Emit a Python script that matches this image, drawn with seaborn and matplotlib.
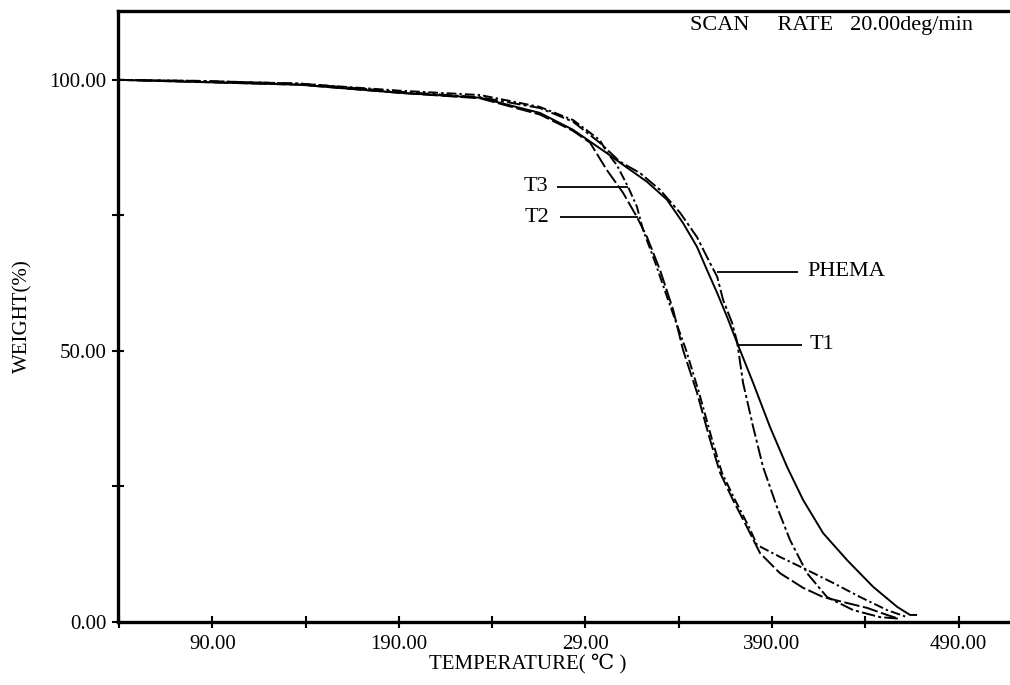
import numpy as np
import pandas as pd
import matplotlib
matplotlib.use("Agg")
import matplotlib.pyplot as plt
import seaborn as sns

# ---------------- data ----------------
t1_temp = [39.4, 83.3, 137.0, 190.6, 233.5, 265.6, 283.3, 301.4, 312.3, 323.0, 333.7, 342.3,
           349.8, 355.2, 360.6, 365.9, 371.3, 379.9, 388.9, 398.1, 406.7, 417.4, 430.3,
           444.2, 457.1, 464.0, 467.8]
t1_weight = [100, 99.6, 99.1, 97.6, 96.7, 93.9, 90.8, 86.5, 83.8, 81.2, 77.9, 73.6,
             69.2, 64.9, 60.7, 56.3, 51.5, 44.1, 36.0, 28.6, 22.5, 16.4, 11.4,
             6.5, 2.8, 1.3, 1.3]

phema_temp = [39.4, 83.3, 137.0, 190.6, 233.5, 265.6, 283.3, 297.7, 308.5, 319.3, 330.0, 340.7,
              349.8, 356.8, 360.6, 363.8, 368.6, 371.3, 374.5, 379.9, 385.2, 392.7, 399.7,
              408.8, 419.5, 433.5, 447.9, 458.7]
phema_weight = [100, 99.8, 99.3, 97.8, 96.8, 94.8, 92.3, 88.4, 84.9, 82.8, 79.7, 75.5,
                71.0, 66.2, 63.7, 59.4, 55.2, 51.7, 44.1, 36.0, 28.6, 21.2, 15.1,
                9.0, 4.6, 2.2, 0.9, 0.6]

t2_temp = [39.4, 83.3, 137.0, 190.6, 233.5, 265.6, 283.3, 292.5, 301.4, 310.1, 317.6, 323.0,
           330.0, 337.0, 342.3, 349.8, 356.8, 362.2, 369.1, 376.6, 383.6, 394.3, 406.7,
           417.4, 430.3, 441.0, 451.7, 457.1]
t2_weight = [100, 99.6, 99.1, 97.6, 96.6, 93.6, 90.6, 88.4, 83.4, 79.2, 74.7, 71.0,
             64.9, 57.6, 50.2, 42.3, 33.6, 27.5, 22.5, 17.5, 12.7, 9.0, 6.3,
             4.6, 3.5, 2.6, 1.3, 0.7]

t3_temp = [39.4, 83.3, 137.0, 190.6, 233.5, 265.6, 283.3, 297.7, 301.4, 306.8, 312.8, 317.6,
           320.9, 327.3, 334.3, 343.9, 350.9, 357.9, 363.2, 370.2, 377.7, 382.0, 394.3,
           408.8, 422.8, 437.3, 451.7, 462.4]
t3_weight = [100, 99.8, 99.3, 98.0, 97.2, 95.0, 92.6, 88.9, 86.7, 84.3, 80.3, 76.6,
             72.3, 66.4, 59.4, 50.2, 42.3, 33.6, 27.5, 22.5, 17.5, 14.2, 12.0,
             9.6, 7.2, 4.6, 2.2, 0.9]

# curve labels with leader lines
label_names = ["T3", "T2", "PHEMA", "T1"]
label_y = [80.3, 74.7, 64.6, 51.1]
label_text_x = [270.0, 270.5, 408.8, 410.4]
leader_x0 = [274.8, 276.4, 404.0, 406.2]
leader_x1 = [312.9, 318.2, 360.6, 371.3]

# ticks
x_major = [90, 190, 290, 390, 490]
x_major_labels = ["90.00", "190.00", "29.00", "390.00", "490.00"]
x_minor = [40, 140, 240, 340, 440]
y_major = [0, 50, 100]
y_major_labels = ["0.00", "50.00", "100.00"]
y_minor = [25, 75]

scan_text = "SCAN     RATE   20.00deg/min"

# ---------------- figure ----------------
sns.set_theme(style="ticks")
plt.rcParams["font.family"] = ["Liberation Serif", "DejaVu Serif", "DejaVu Sans"]
plt.rcParams["lines.solid_capstyle"] = "butt"

fig = plt.figure(figsize=(10.10, 6.85), dpi=100)
ax = fig.add_axes([118 / 1010, 63 / 685, 892 / 1010, 611 / 685])

frames = []
for name, xs, ys in [("T1", t1_temp, t1_weight), ("PHEMA", phema_temp, phema_weight),
                     ("T2", t2_temp, t2_weight), ("T3", t3_temp, t3_weight)]:
    frames.append(pd.DataFrame({"temp": xs, "weight": ys, "sample": name}))
df = pd.concat(frames, ignore_index=True)

dash_map = {"T1": "", "PHEMA": (7, 1.6, 1.6, 1.6), "T2": (8, 1.8), "T3": (5, 1.6, 1.2, 1.6)}
sns.lineplot(data=df, x="temp", y="weight", style="sample", dashes=dash_map,
             color="black", estimator=None, sort=False, legend=False,
             linewidth=1.4, ax=ax)

# leaders and labels
for name, y, tx, x0, x1 in zip(label_names, label_y, label_text_x, leader_x0, leader_x1):
    ax.plot([x0, x1], [y, y], color="black", lw=1.3)
    ha = "right" if tx < x0 else "left"
    ax.text(tx, y, name, ha=ha, va="center", fontsize=16, color="black")

ax.text(346.1, 110.1, scan_text, ha="left", va="center", fontsize=16, color="black")

ax.set_xlim(39.4, 517.6)
ax.set_ylim(0, 112.7)

ax.set_xticks(x_major)
ax.set_xticklabels(x_major_labels)
ax.set_xticks(x_minor, minor=True)
ax.set_yticks(y_major)
ax.set_yticklabels(y_major_labels)
ax.set_yticks(y_minor, minor=True)

ax.tick_params(axis="both", which="both", direction="inout", length=9, width=1.5,
               color="black", labelsize=15, labelcolor="black")
ax.tick_params(axis="x", which="major", pad=5)
ax.tick_params(axis="y", which="major", pad=4)

ax.set_xlabel("TEMPERATURE( ℃ )", fontsize=15, color="black")
ax.set_ylabel("WEIGHT(%)", fontsize=15, color="black")
ax.xaxis.set_label_coords(0.459, -0.052)
ax.yaxis.set_label_coords(-0.096, 0.5)

for side in ["left", "bottom", "top"]:
    ax.spines[side].set_linewidth(2.4)
    ax.spines[side].set_color("black")
ax.spines["right"].set_visible(False)
ax.set_facecolor("white")
fig.patch.set_facecolor("white")

fig.savefig("out.png", dpi=100, facecolor="white")
